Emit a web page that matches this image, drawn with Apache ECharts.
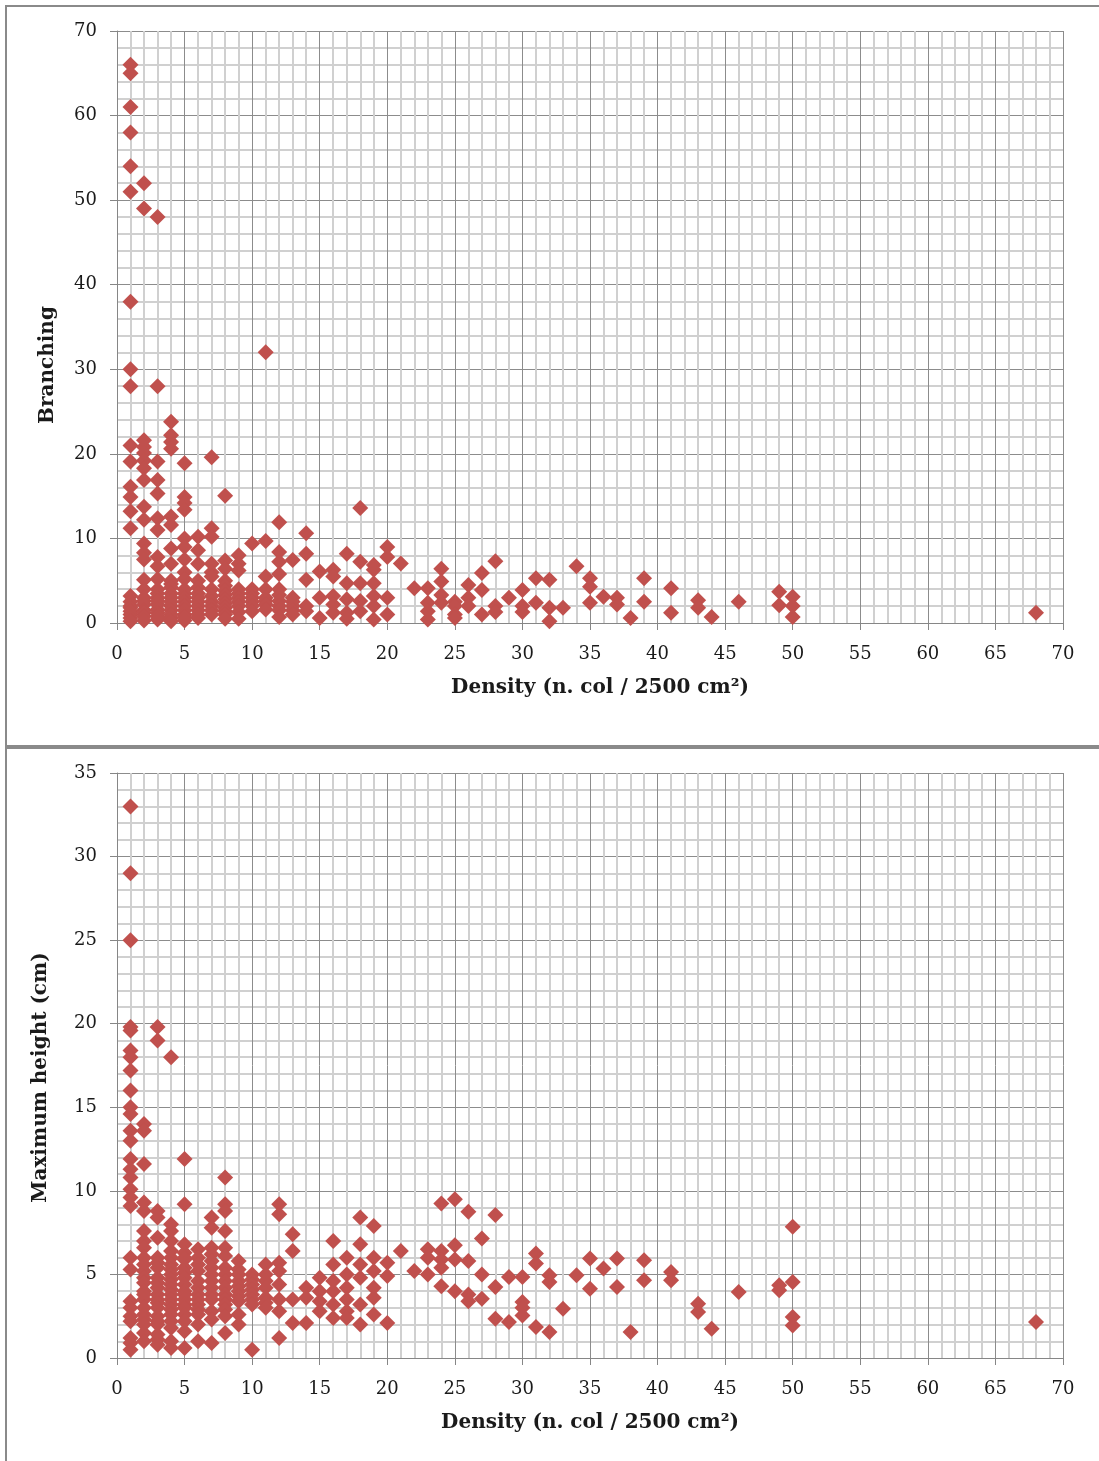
<!DOCTYPE html>
<html>
<head>
<meta charset="utf-8">
<script src="https://cdn.jsdelivr.net/npm/echarts@6/dist/echarts.min.js"></script>
<style>
  html, body { margin: 0; padding: 0; background: #ffffff; }
  #chart { width: 1099px; height: 1461px; }
</style>
</head>
<body>
<div id="chart"></div>
<script>
// ---- Data: [density, [values...]] ----
const branchingGroups = [
  [1, [66, 65, 61, 58, 54, 51, 38, 30, 28, 21, 19.1, 16.1, 14.9, 13.2, 11.2, 3.2, 2.5, 2.0, 1.8, 1.4, 1.0, 0.6, 0.2]],
  [2, [52, 49, 21.6, 20.8, 20.1, 19.2, 18.3, 16.9, 13.75, 12.2, 9.4, 8.3, 7.5, 5.1, 4.0, 3.0, 2.6, 2.2, 1.5, 1.2, 0.8, 0.3]],
  [3, [48, 28, 19.1, 16.9, 15.3, 12.4, 11.0, 7.8, 6.7, 5.2, 4.0, 3.5, 3.0, 2.6, 2.2, 1.6, 1.2, 0.8, 0.4]],
  [4, [23.8, 22.2, 21.4, 20.6, 12.6, 11.6, 8.8, 7.0, 5.0, 4.6, 4.2, 3.5, 3.0, 2.5, 2.0, 1.5, 1.0, 0.6, 0.2]],
  [5, [18.9, 14.9, 14.2, 13.4, 10.0, 9.0, 7.5, 6.0, 5.2, 4.0, 3.5, 3.0, 2.5, 2.0, 1.5, 1.0, 0.7, 0.3]],
  [6, [10.2, 8.6, 7.0, 5.0, 4.2, 3.5, 3.0, 2.5, 2.0, 1.5, 1.0, 0.6]],
  [7, [19.6, 11.2, 10.2, 7.0, 6.0, 5.5, 4.0, 3.2, 2.5, 2.0, 1.5, 1.0]],
  [8, [15.05, 7.4, 6.4, 5.0, 4.4, 3.8, 3.3, 2.8, 2.3, 1.8, 1.4, 1.0, 0.5]],
  [9, [8.0, 7.0, 6.2, 4.0, 3.5, 3.0, 2.5, 2.0, 1.3, 0.5]],
  [10, [9.4, 4.0, 3.5, 3.0, 2.5, 2.0, 1.4]],
  [11, [32, 9.7, 5.5, 4.0, 3.0, 2.6, 2.2, 1.6]],
  [12, [11.9, 8.4, 7.25, 5.8, 4.0, 3.3, 2.6, 2.0, 1.5, 0.7]],
  [13, [7.45, 3.0, 2.5, 2.0, 1.5, 1.0]],
  [14, [10.6, 8.2, 5.1, 2.0, 1.4]],
  [15, [6.1, 3.0, 0.6]],
  [16, [6.3, 5.5, 3.2, 2.2, 1.2]],
  [17, [8.2, 4.7, 2.8, 1.2, 0.5]],
  [18, [13.6, 7.25, 4.7, 2.6, 1.4]],
  [19, [6.85, 6.3, 4.7, 3.2, 2.0, 0.4]],
  [20, [9.0, 7.8, 3.0, 1.0]],
  [21, [7.05]], [22, [4.1]], [23, [4.1, 2.4, 1.4, 0.4]], [24, [6.4, 4.9, 3.3, 2.4]],
  [25, [2.5, 2.0, 1.0, 0.6]], [26, [4.5, 3.0, 2.0]], [27, [5.9, 3.9, 1.0]], [28, [7.3, 2.0, 1.3]],
  [29, [3.0]], [30, [3.9, 2.0, 1.3]], [31, [5.3, 2.4]], [32, [5.1, 1.8, 0.2]], [33, [1.8]],
  [34, [6.7]], [35, [5.3, 4.3, 2.4]], [36, [3.1]], [37, [3.0, 2.2]], [38, [0.6]],
  [39, [5.3, 2.5]], [41, [4.1, 1.2]], [43, [2.7, 1.8]], [44, [0.7]], [46, [2.5]],
  [49, [3.7, 2.1]], [50, [3.1, 2.0, 0.7]], [68, [1.2]]
];

const heightGroups = [
  [1, [33, 29, 25, 19.8, 19.6, 18.4, 18.0, 17.2, 16.0, 15.0, 14.6, 13.6, 13.0, 11.9, 11.3, 10.8, 10.1, 9.6, 9.1, 6.0, 5.3, 3.4, 3.0, 2.5, 2.2, 1.2, 0.9, 0.5]],
  [2, [14.0, 13.6, 11.6, 9.3, 8.8, 7.6, 7.0, 6.6, 6.0, 5.6, 5.2, 4.8, 4.5, 4.0, 3.8, 3.5, 3.0, 2.6, 2.3, 2.0, 1.5, 1.0]],
  [3, [19.8, 19.0, 8.8, 8.4, 7.2, 6.0, 5.7, 5.4, 4.8, 4.5, 4.2, 3.8, 3.5, 3.3, 3.0, 2.5, 2.2, 2.0, 1.4, 1.1, 0.8]],
  [4, [18.0, 8.0, 7.6, 7.0, 6.4, 6.0, 5.6, 5.3, 5.0, 4.7, 4.4, 4.1, 3.8, 3.5, 3.2, 2.9, 2.6, 2.2, 1.8, 1.0, 0.6]],
  [5, [11.9, 9.2, 6.8, 6.3, 6.0, 5.9, 5.4, 5.1, 4.8, 4.4, 4.0, 3.8, 3.5, 3.2, 3.0, 2.6, 2.2, 1.6, 0.6]],
  [6, [6.5, 6.0, 5.6, 5.2, 4.6, 4.2, 3.8, 3.5, 3.2, 2.9, 2.6, 2.0, 1.0]],
  [7, [8.4, 7.8, 6.6, 6.2, 5.8, 5.4, 5.0, 4.6, 4.2, 3.8, 3.5, 2.8, 2.3, 0.9]],
  [8, [10.8, 9.2, 8.8, 7.6, 6.6, 6.1, 5.4, 5.0, 4.6, 4.2, 3.8, 3.5, 3.2, 2.9, 2.5, 1.5]],
  [9, [5.8, 5.3, 5.0, 4.6, 4.3, 4.0, 3.7, 3.4, 2.6, 2.0]],
  [10, [5.0, 4.7, 4.4, 4.1, 3.8, 3.5, 3.2, 0.5]],
  [11, [5.6, 5.0, 4.6, 4.2, 3.6, 3.3, 3.0]],
  [12, [9.2, 8.6, 5.7, 5.2, 4.4, 3.5, 2.8, 1.2]],
  [13, [7.4, 6.4, 3.5, 2.1]],
  [14, [4.2, 3.6, 2.1]],
  [15, [4.8, 4.0, 3.4, 2.8]],
  [16, [7.0, 5.6, 4.6, 4.0, 3.2, 2.4]],
  [17, [6.0, 5.0, 4.2, 3.5, 2.8, 2.4]],
  [18, [8.4, 6.8, 5.6, 4.8, 3.2, 2.0]],
  [19, [7.9, 6.0, 5.2, 4.2, 3.6, 2.6]],
  [20, [5.7, 4.9, 2.1]],
  [21, [6.4]], [22, [5.2]], [23, [6.5, 6.0, 5.0]], [24, [9.25, 6.4, 5.9, 5.4, 4.3]],
  [25, [9.5, 6.75, 5.9, 4.0]], [26, [8.75, 5.8, 3.8, 3.4]], [27, [7.15, 5.0, 3.55]],
  [28, [8.55, 4.25, 2.35]], [29, [4.85, 2.15]], [30, [4.85, 3.35, 3.0, 2.55]],
  [31, [6.25, 5.65, 1.85]], [32, [4.95, 4.55, 1.55]], [33, [2.95]], [34, [4.95]],
  [35, [5.95, 4.15]], [36, [5.35]], [37, [5.95, 4.25]], [38, [1.55]], [39, [5.85, 4.65]],
  [41, [5.15, 4.65]], [43, [3.25, 2.75]], [44, [1.75]], [46, [3.95]], [49, [4.35, 4.05]],
  [50, [7.85, 4.55, 2.45, 1.95]], [68, [2.15]]
];

// ---- Axis settings ----
const densityAxis = { min: 0, max: 70, interval: 5 };
const branchingAxis = { min: 0, max: 70, interval: 10 };
const heightAxis = { min: 0, max: 35, interval: 5 };
const xTitle = 'Density (n. col / 2500 cm²)';
const yTitleTop = 'Branching';
const yTitleBottom = 'Maximum height (cm)';

function flatten(groups) {
  const out = [];
  groups.forEach(function (g) { g[1].forEach(function (v) { out.push([g[0], v]); }); });
  return out;
}

const FONT = 'DejaVu Serif';
const MARK = '#c0504d';
const TEXT = '#1a1a1a';

function xAxisCfg(gridIndex, pad) {
  return {
    type: 'value', gridIndex: gridIndex,
    min: densityAxis.min, max: densityAxis.max, interval: densityAxis.interval,
    name: xTitle, nameLocation: 'middle', nameGap: 55,
    nameTextStyle: { fontFamily: FONT, fontWeight: 'bold', fontSize: 20, color: TEXT, padding: pad },
    axisLine: { show: true, onZero: false, lineStyle: { color: '#868686', width: 1 } },
    axisTick: { show: true, inside: false, length: 7, lineStyle: { color: '#868686' } },
    axisLabel: { fontFamily: FONT, fontSize: 18, color: TEXT, margin: 22 },
    splitLine: { show: true, lineStyle: { color: '#8c8c8c', width: 1 } },
    minorTick: { show: true, splitNumber: 5, length: 0 },
    minorSplitLine: { show: true, lineStyle: { color: '#d0d0d0', width: 2 } }
  };
}

function yAxisCfg(gridIndex, ax, name, gap, pad) {
  return {
    type: 'value', gridIndex: gridIndex,
    min: ax.min, max: ax.max, interval: ax.interval,
    name: name, nameLocation: 'middle', nameGap: gap,
    nameTextStyle: { fontFamily: FONT, fontWeight: 'bold', fontSize: 20, color: TEXT, padding: pad },
    axisLine: { show: true, onZero: false, lineStyle: { color: '#868686', width: 1 } },
    axisTick: { show: true, inside: false, length: 7, lineStyle: { color: '#868686' } },
    axisLabel: { fontFamily: FONT, fontSize: 18, color: TEXT, margin: 20 },
    splitLine: { show: true, lineStyle: { color: '#8c8c8c', width: 1 } },
    minorTick: { show: true, splitNumber: 5, length: 0 },
    minorSplitLine: { show: true, lineStyle: { color: '#d0d0d0', width: 2 } }
  };
}

const chart = echarts.init(document.getElementById('chart'), null, { renderer: 'canvas' });
chart.setOption({
  animation: false,
  backgroundColor: '#ffffff',
  graphic: [
    { type: 'rect', shape: { x: 6, y: 6, width: 1200, height: 740 }, style: { fill: 'none', stroke: '#8a8a8a', lineWidth: 2 }, silent: true, z: -1 },
    { type: 'rect', shape: { x: 6, y: 748, width: 1200, height: 800 }, style: { fill: 'none', stroke: '#8a8a8a', lineWidth: 2 }, silent: true, z: -1 }
  ],
  grid: [
    { left: 117, top: 31, width: 946, height: 592 },
    { left: 117, top: 773, width: 946, height: 585 }
  ],
  xAxis: [xAxisCfg(0, [0, 0, 0, 20]), xAxisCfg(1, [0, 0, 0, 0])],
  yAxis: [
    yAxisCfg(0, branchingAxis, yTitleTop, 59, [0, 76, 0, 0]),
    yAxisCfg(1, heightAxis, yTitleBottom, 66, [0, 24, 0, 0])
  ],
  series: [
    {
      type: 'scatter', xAxisIndex: 0, yAxisIndex: 0,
      symbol: 'diamond', symbolSize: 16,
      itemStyle: { color: MARK, opacity: 1 },
      data: flatten(branchingGroups)
    },
    {
      type: 'scatter', xAxisIndex: 1, yAxisIndex: 1,
      symbol: 'diamond', symbolSize: 16,
      itemStyle: { color: MARK, opacity: 1 },
      data: flatten(heightGroups)
    }
  ]
});
</script>
</body>
</html>
